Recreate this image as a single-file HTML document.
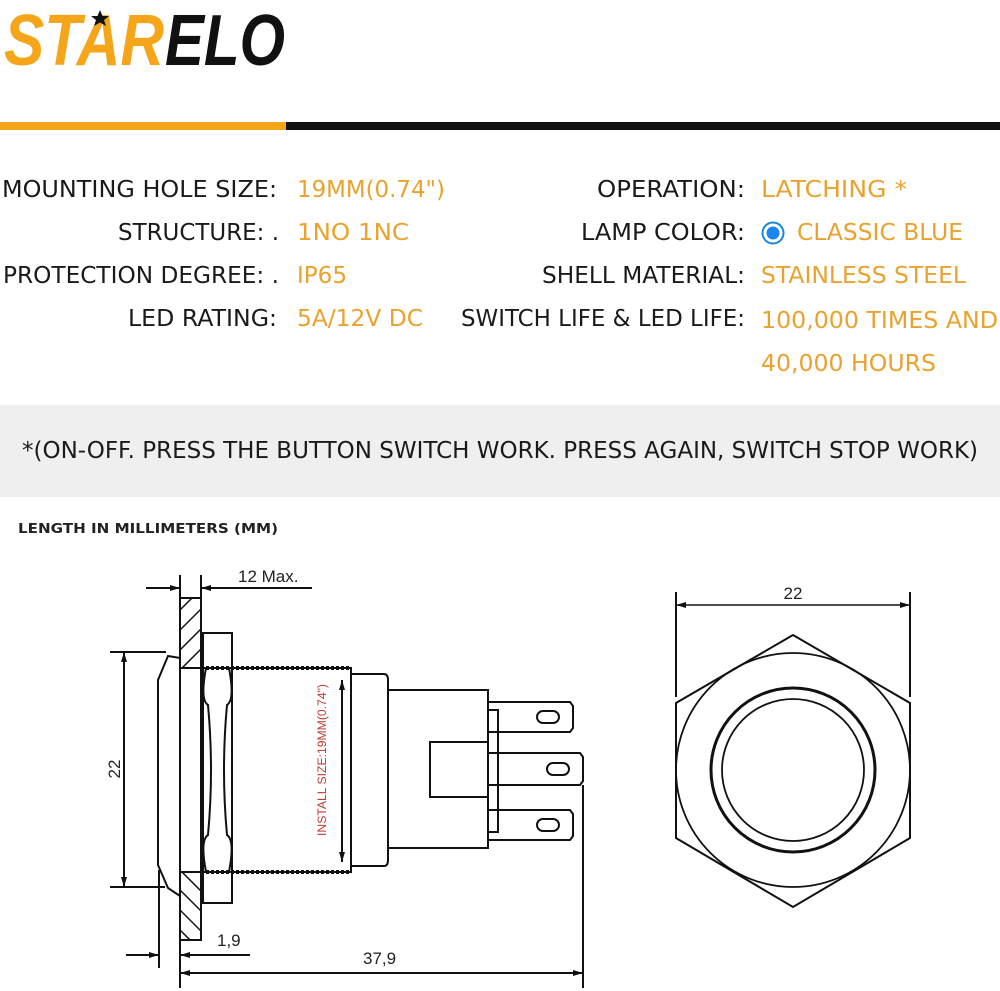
<!DOCTYPE html>
<html><head><meta charset="utf-8"><style>
html,body{margin:0;padding:0;background:#fff;}
svg{display:block;}
.l{font-family:"DejaVu Sans","Liberation Sans",sans-serif;font-size:23px;fill:#1a1a1a;}
.v{font-family:"DejaVu Sans","Liberation Sans",sans-serif;font-size:23px;fill:#eaa22c;}
.d{font-family:"Liberation Sans",sans-serif;font-size:17px;fill:#222;}
</style></head><body>
<svg width="1000" height="991" viewBox="0 0 1000 991" xmlns="http://www.w3.org/2000/svg">
<defs>
<marker id="a" viewBox="0 0 10 6" refX="10" refY="3" markerWidth="11" markerHeight="6" orient="auto-start-reverse" markerUnits="userSpaceOnUse"><path d="M0,0L10,3L0,6z" fill="#111"/></marker>
<clipPath id="pl1"><rect x="180" y="598" width="21" height="70"/></clipPath>
<clipPath id="pl2"><rect x="180" y="872" width="21" height="68"/></clipPath>
</defs>
<!-- logo -->
<text x="4" y="65" font-family="Liberation Sans,sans-serif" font-weight="bold" font-style="italic" font-size="72" fill="#f5a519" textLength="160" lengthAdjust="spacingAndGlyphs">STAR</text>
<text x="165" y="65" font-family="Liberation Sans,sans-serif" font-weight="bold" font-style="italic" font-size="72" fill="#111" textLength="120" lengthAdjust="spacingAndGlyphs">ELO</text>
<polygon points="100,10 102.5,16 109,16 104,20 106,26 100,22.5 94,26 96,20 91,16 97.5,16" fill="#111"/>
<rect x="0" y="122" width="286" height="8" fill="#f5a519"/>
<rect x="286" y="122" width="714" height="8" fill="#111"/>
<!-- specs -->
<text class="l" x="2" y="197" textLength="275" lengthAdjust="spacingAndGlyphs">MOUNTING HOLE SIZE:</text>
<text class="l" x="118" y="240" textLength="161" lengthAdjust="spacingAndGlyphs">STRUCTURE: .</text>
<text class="l" x="3" y="283" textLength="276" lengthAdjust="spacingAndGlyphs">PROTECTION DEGREE: .</text>
<text class="l" x="128" y="326" textLength="149" lengthAdjust="spacingAndGlyphs">LED RATING:</text>
<text class="v" x="297" y="197" textLength="148" lengthAdjust="spacingAndGlyphs">19MM(0.74")</text>
<text class="v" x="297" y="240" textLength="112" lengthAdjust="spacingAndGlyphs">1NO 1NC</text>
<text class="v" x="297" y="283" textLength="50" lengthAdjust="spacingAndGlyphs">IP65</text>
<text class="v" x="297" y="326" textLength="126" lengthAdjust="spacingAndGlyphs">5A/12V DC</text>
<text class="l" x="597" y="197" textLength="148" lengthAdjust="spacingAndGlyphs">OPERATION:</text>
<text class="l" x="581" y="240" textLength="164" lengthAdjust="spacingAndGlyphs">LAMP COLOR:</text>
<text class="l" x="542" y="283" textLength="203" lengthAdjust="spacingAndGlyphs">SHELL MATERIAL:</text>
<text class="l" x="461" y="326" textLength="284" lengthAdjust="spacingAndGlyphs">SWITCH LIFE &amp; LED LIFE:</text>
<text class="v" x="761" y="197" textLength="146" lengthAdjust="spacingAndGlyphs">LATCHING *</text>
<circle cx="773" cy="233" r="10.5" fill="#fff" stroke="#1a86d8" stroke-width="2"/>
<circle cx="773" cy="233" r="6.5" fill="#1a86f0"/>
<text class="v" x="797" y="240" textLength="166" lengthAdjust="spacingAndGlyphs">CLASSIC BLUE</text>
<text class="v" x="761" y="283" textLength="205" lengthAdjust="spacingAndGlyphs">STAINLESS STEEL</text>
<text class="v" x="761" y="328" textLength="237" lengthAdjust="spacingAndGlyphs">100,000 TIMES AND</text>
<text class="v" x="761" y="371" textLength="175" lengthAdjust="spacingAndGlyphs">40,000 HOURS</text>
<rect x="0" y="405" width="1000" height="92" fill="#efefef"/>
<text class="l" x="22" y="458" textLength="956" lengthAdjust="spacingAndGlyphs">*(ON-OFF. PRESS THE BUTTON SWITCH WORK. PRESS AGAIN, SWITCH STOP WORK)</text>
<text x="18" y="533" font-family="DejaVu Sans,Liberation Sans,sans-serif" font-weight="bold" font-size="13" fill="#222" textLength="260" lengthAdjust="spacingAndGlyphs">LENGTH IN MILLIMETERS (MM)</text>
<!-- side view -->
<g fill="none" stroke="#111" stroke-width="2">
<rect x="180" y="598" width="21" height="342"/>
<g clip-path="url(#pl1)" stroke-width="1.5"><path d="M170,620l40,-40M170,640l40,-40M170,660l40,-40M170,680l40,-40M170,700l40,-40"/></g>
<g clip-path="url(#pl2)" stroke-width="1.5"><path d="M170,880l40,40M170,860l40,40M170,900l40,40M170,920l40,40M170,940l40,40M170,840l40,40"/></g>
<line x1="180" y1="668" x2="201" y2="668"/><line x1="180" y1="872" x2="201" y2="872"/>
<rect x="203" y="633" width="29" height="270"/>
<path d="M206,668 Q200,700 208,705 Q214,770 208,835 Q200,840 206,872"/>
<path d="M229,668 Q235,700 227,705 Q221,770 227,835 Q235,840 229,872"/>
<path d="M158,652 L166,652 M180,658 L168,656 L158,680 L158,865 L168,888 L180,896"/>
<path d="M201,668 H351 V872 H201"/>
<path d="M201,668 H351" stroke-dasharray="3 2" stroke-width="4"/>
<path d="M201,872 H351" stroke-dasharray="3 2" stroke-width="4"/>
<path d="M351,674 H384 Q388,674 388,680 V860 Q388,866 384,866 H351"/>
<rect x="388" y="690" width="100" height="158"/>
<rect x="430" y="742" width="58" height="55"/>
<rect x="488" y="710" width="10" height="122"/>
<path d="M488,702 H570 L573,706 V728 L570,732 H488"/>
<path d="M488,753 H580 L583,757 V781 L580,785 H488"/>
<path d="M488,810 H570 L573,814 V836 L570,840 H488"/>
<rect x="537" y="711" width="22" height="12" rx="6"/>
<rect x="547" y="763" width="22" height="12" rx="6"/>
<rect x="537" y="819" width="22" height="12" rx="6"/>
</g>
<!-- dims -->
<g stroke="#111" stroke-width="2" fill="none">
<line x1="180" y1="575" x2="180" y2="600"/><line x1="201" y1="575" x2="201" y2="600"/>
<line x1="146" y1="588" x2="180" y2="588" marker-end="url(#a)"/>
<line x1="312" y1="588" x2="201" y2="588" marker-end="url(#a)"/>
<line x1="110" y1="652" x2="165" y2="652"/><line x1="110" y1="887" x2="165" y2="887"/>
<line x1="124" y1="652" x2="124" y2="887" marker-start="url(#a)" marker-end="url(#a)"/>
<line x1="159" y1="870" x2="159" y2="968"/><line x1="180" y1="940" x2="180" y2="988"/>
<line x1="126" y1="955" x2="159" y2="955" marker-end="url(#a)"/>
<line x1="250" y1="955" x2="180" y2="955" marker-end="url(#a)"/>
<line x1="583" y1="785" x2="583" y2="988"/>
<line x1="180" y1="973" x2="583" y2="973" marker-start="url(#a)" marker-end="url(#a)"/>
<line x1="342" y1="680" x2="342" y2="862" marker-start="url(#a)" marker-end="url(#a)"/>
</g>
<text class="d" x="238" y="582">12 Max.</text>
<text class="d" x="217" y="946">1,9</text>
<text class="d" x="363" y="964">37,9</text>
<text class="d" transform="translate(120,769) rotate(-90)" text-anchor="middle">22</text>
<text transform="translate(326,760) rotate(-90)" text-anchor="middle" font-family="Liberation Sans,sans-serif" font-size="11.5" fill="#c0392b" textLength="152" lengthAdjust="spacingAndGlyphs">INSTALL SIZE:19MM(0.74")</text>
<!-- front view -->
<g fill="none" stroke="#111">
<polygon points="793,635 910,703 910,838 793,907 676,838 676,703" stroke-width="2"/>
<circle cx="793" cy="770" r="117" stroke-width="1.8"/>
<circle cx="793" cy="770" r="82" stroke-width="3"/>
<circle cx="793" cy="770" r="71" stroke-width="1.8"/>
<line x1="676" y1="592" x2="676" y2="697" stroke-width="2"/>
<line x1="910" y1="592" x2="910" y2="697" stroke-width="2"/>
<line x1="676" y1="605" x2="910" y2="605" stroke-width="1.5" marker-start="url(#a)" marker-end="url(#a)"/>
</g>
<text class="d" x="793" y="599" text-anchor="middle">22</text>
</svg>
</body></html>
